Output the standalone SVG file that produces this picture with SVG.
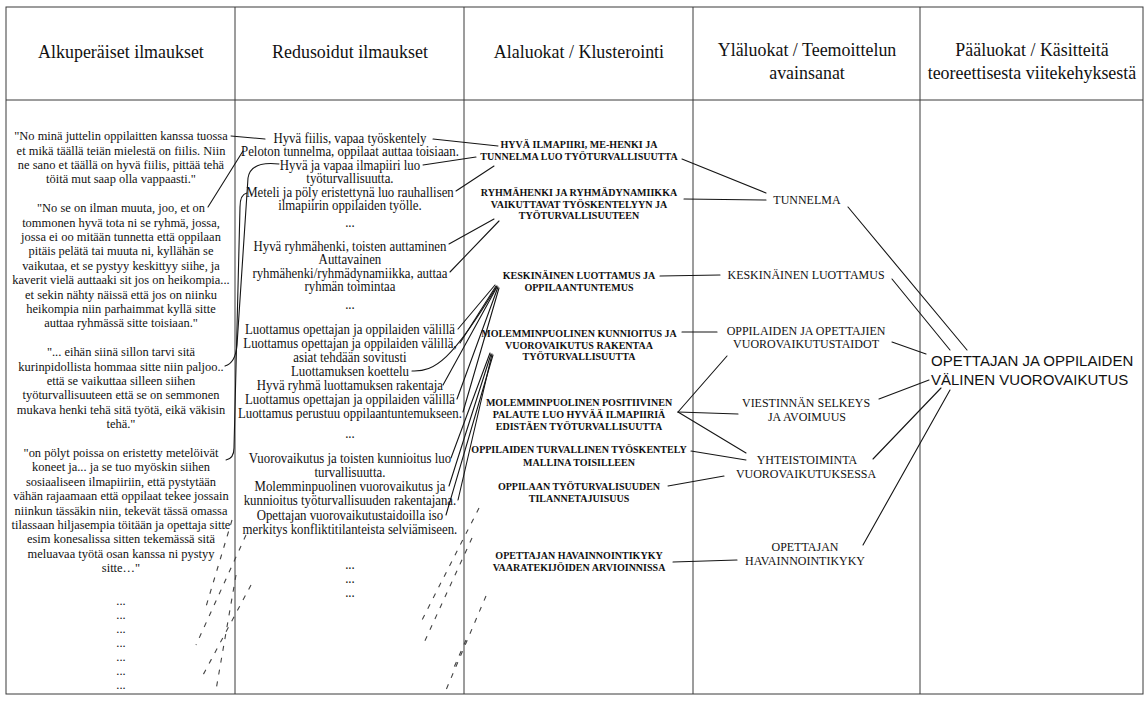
<svg xmlns="http://www.w3.org/2000/svg" width="1146" height="702" viewBox="0 0 1146 702">
  <style>
    .serif { font-family: "Liberation Serif", "Times New Roman", serif; fill: #111; text-anchor: middle; }
    .hd { font-size: 19.5px; }
    .c1 { font-size: 13.4px; }
    .c2 { font-size: 13.8px; }
    .c3 { font-size: 10.8px; font-weight: bold; }
    .c4 { font-size: 12.9px; }
    .c5 { font-family: "Liberation Sans", Arial, sans-serif; font-size: 15px; fill: #111; }
    .grid { stroke: #3a3a3a; stroke-width: 1; fill: none; }
    .ln { stroke: #151515; stroke-width: 1.1; fill: none; stroke-linecap: round; }
    .dl { stroke: #444; stroke-width: 1.1; fill: none; stroke-dasharray: 5 7; }
  </style>
  <rect width="1146" height="702" fill="#fff"/>

  <!-- table frame -->
  <g id="table" class="grid">
    <rect x="6" y="7" width="1137" height="687"/>
    <line x1="6" y1="100" x2="1143" y2="100"/>
    <line x1="235" y1="7" x2="235" y2="694"/>
    <line x1="464" y1="7" x2="464" y2="694"/>
    <line x1="693" y1="7" x2="693" y2="694"/>
    <line x1="920" y1="7" x2="920" y2="694"/>
  </g>

  <!-- column headings (narrow serif: x values are pre-divided by the 0.92 squeeze) -->
  <g id="headers" class="serif hd" transform="scale(0.92,1)">
    <text x="131.5" y="58">Alkuperäiset ilmaukset</text>
    <text x="380.4" y="58">Redusoidut ilmaukset</text>
    <text x="629.3" y="58">Alaluokat / Klusterointi</text>
    <text x="877.2" y="56">Yläluokat / Teemoittelun</text>
    <text x="877.2" y="79">avainsanat</text>
    <text x="1121.7" y="56">Pääluokat / Käsitteitä</text>
    <text x="1121.7" y="79">teoreettisesta viitekehyksestä</text>
  </g>

  <!-- connectors -->
  <g id="connectors">
    <!-- original expressions to reduced expressions -->
    <line class="ln" x1="231" y1="136" x2="265" y2="139"/>
    <line class="ln" x1="208" y1="207" x2="243" y2="151"/>
    <path class="ln" d="M279,164 C262,162 250,166 248,178 L237,345 C236,357 232,364 225,366"/>
    <path class="ln" d="M247,193 C242,194 240,198 240,207 L234,448 C234,455 231,459 226,460"/>
    <!-- reduced expressions to sub-categories -->
    <line class="ln" x1="433" y1="139" x2="498" y2="146"/>
    <line class="ln" x1="423" y1="165" x2="476" y2="157"/>
    <line class="ln" x1="456" y1="191" x2="494" y2="166"/>
    <line class="ln" x1="449" y1="244" x2="494" y2="219"/>
    <line class="ln" x1="450" y1="272" x2="499" y2="221"/>
    <line class="ln" x1="458" y1="329" x2="495" y2="285"/>
    <line class="ln" x1="460" y1="343" x2="496" y2="286"/>
    <path class="ln" d="M412,371 C435,372 452,360 497,286"/>
    <line class="ln" x1="443" y1="385" x2="497" y2="287"/>
    <line class="ln" x1="457" y1="399" x2="498" y2="287"/>
    <line class="ln" x1="463" y1="412" x2="499" y2="288"/>
    <line class="ln" x1="451" y1="458" x2="490" y2="353"/>
    <line class="ln" x1="449" y1="486" x2="491" y2="354"/>
    <line class="ln" x1="458" y1="500" x2="492" y2="354"/>
    <line class="ln" x1="446" y1="515" x2="493" y2="355"/>
    <!-- sub-categories to upper categories -->
    <line class="ln" x1="682" y1="159" x2="766" y2="193"/>
    <line class="ln" x1="684" y1="199" x2="766" y2="200"/>
    <line class="ln" x1="660" y1="276" x2="720" y2="275"/>
    <line class="ln" x1="682" y1="332" x2="717" y2="332"/>
    <line class="ln" x1="678" y1="412" x2="727" y2="356"/>
    <line class="ln" x1="678" y1="412" x2="738" y2="414"/>
    <line class="ln" x1="678" y1="412" x2="746" y2="453"/>
    <line class="ln" x1="691" y1="451" x2="746" y2="460"/>
    <line class="ln" x1="668" y1="486" x2="724" y2="476"/>
    <line class="ln" x1="673" y1="562" x2="737" y2="560"/>
    <!-- upper categories to main category -->
    <line class="ln" x1="848" y1="207" x2="967" y2="350"/>
    <line class="ln" x1="892" y1="279" x2="950" y2="350"/>
    <line class="ln" x1="892" y1="342" x2="926" y2="354"/>
    <line class="ln" x1="879" y1="399" x2="929" y2="380"/>
    <line class="ln" x1="873" y1="459" x2="941" y2="388"/>
    <line class="ln" x1="863" y1="545" x2="950" y2="390"/>
    <!-- faint continuation lines -->
    <line class="dl" x1="246" y1="535" x2="196" y2="645"/>
    <line class="dl" x1="251" y1="585" x2="203" y2="675"/>
    <line class="dl" x1="236" y1="575" x2="216" y2="690"/>
    <line class="dl" x1="232" y1="520" x2="205" y2="610"/>
    <line class="dl" x1="479" y1="508" x2="421" y2="622"/>
    <line class="dl" x1="472" y1="538" x2="423" y2="645"/>
    <line class="dl" x1="486" y1="596" x2="446" y2="690"/>
    <line class="dl" x1="466" y1="640" x2="452" y2="672"/>
  </g>

  <!-- original expressions (squeezed 0.93 horizontally; x = 121 / 0.93) -->
  <g id="quote-fiilis" class="serif c1" transform="scale(0.93,1)">
    <text x="130.1" y="140.2">"No minä juttelin oppilaitten kanssa tuossa</text>
    <text x="130.1" y="154.6">et mikä täällä teiän mielestä on fiilis. Niin</text>
    <text x="130.1" y="169">ne sano et täällä on hyvä fiilis, pittää tehä</text>
    <text x="130.1" y="183.4">töitä mut saap olla vappaasti."</text>
  </g>
  <g id="quote-ryhma" class="serif c1" transform="scale(0.93,1)">
    <text x="130.1" y="212.2">"No se on ilman muuta, joo, et on</text>
    <text x="130.1" y="226.6">tommonen hyvä tota ni se ryhmä, jossa,</text>
    <text x="130.1" y="241">jossa ei oo mitään tunnetta että oppilaan</text>
    <text x="130.1" y="255.4">pitäis pelätä tai muuta ni, kyllähän se</text>
    <text x="130.1" y="269.8">vaikutaa, et se pystyy keskittyy siihe, ja</text>
    <text x="130.1" y="284.2">kaverit vielä auttaaki sit jos on heikompia...</text>
    <text x="130.1" y="298.6">et sekin nähty näissä että jos on niinku</text>
    <text x="130.1" y="313">heikompia niin parhaimmat kyllä sitte</text>
    <text x="130.1" y="327.4">auttaa ryhmässä sitte toisiaan."</text>
  </g>
  <g id="quote-henki" class="serif c1" transform="scale(0.93,1)">
    <text x="130.1" y="356.2">"... eihän siinä sillon tarvi sitä</text>
    <text x="130.1" y="370.6">kurinpidollista hommaa sitte niin paljoo..</text>
    <text x="130.1" y="385">että se vaikuttaa silleen siihen</text>
    <text x="130.1" y="399.4">työturvallisuuteen että se on semmonen</text>
    <text x="130.1" y="413.8">mukava henki tehä sitä työtä, eikä väkisin</text>
    <text x="130.1" y="428.2">tehä."</text>
  </g>
  <g id="quote-melu" class="serif c1" transform="scale(0.93,1)">
    <text x="130.1" y="457">"on pölyt poissa on eristetty metelöivät</text>
    <text x="130.1" y="471.4">koneet ja... ja se tuo myöskin siihen</text>
    <text x="130.1" y="485.8">sosiaaliseen ilmapiiriin, että pystytään</text>
    <text x="130.1" y="500.2">vähän rajaamaan että oppilaat tekee jossain</text>
    <text x="130.1" y="514.6">niinkun tässäkin niin, tekevät tässä omassa</text>
    <text x="130.1" y="529">tilassaan hiljasempia töitään ja opettaja sitte</text>
    <text x="130.1" y="543.4">esim konesalissa sitten tekemässä sitä</text>
    <text x="130.1" y="557.8">meluavaa työtä osan kanssa ni pystyy</text>
    <text x="130.1" y="572.2">sitte…"</text>
  </g>
  <g id="quote-more" class="serif c1" transform="scale(0.93,1)">
    <text x="130.1" y="605">...</text>
    <text x="130.1" y="619">...</text>
    <text x="130.1" y="633">...</text>
    <text x="130.1" y="647">...</text>
    <text x="130.1" y="661">...</text>
    <text x="130.1" y="675">...</text>
    <text x="130.1" y="689">...</text>
  </g>

  <!-- reduced expressions (x = 350 / 0.93) -->
  <g id="reduced-ilmapiiri" class="serif c2" transform="scale(0.93,1)">
    <text x="376.3" y="142.8">Hyvä fiilis, vapaa työskentely</text>
    <text x="376.3" y="156.3">Peloton tunnelma, oppilaat auttaa toisiaan.</text>
    <text x="376.3" y="169.8">Hyvä ja vapaa ilmapiiri luo</text>
    <text x="376.3" y="183.3">työturvallisuutta.</text>
    <text x="376.3" y="196.8">Meteli ja pöly eristettynä luo rauhallisen</text>
    <text x="376.3" y="210.3">ilmapiirin oppilaiden työlle.</text>
    <text x="376.3" y="227.3">...</text>
  </g>
  <g id="reduced-ryhmahenki" class="serif c2" transform="scale(0.93,1)">
    <text x="376.3" y="250.8">Hyvä ryhmähenki, toisten auttaminen</text>
    <text x="376.3" y="264.3">Auttavainen</text>
    <text x="376.3" y="277.8">ryhmähenki/ryhmädynamiikka, auttaa</text>
    <text x="376.3" y="291.3">ryhmän toimintaa</text>
    <text x="376.3" y="309.3">...</text>
  </g>
  <g id="reduced-luottamus" class="serif c2" transform="scale(0.93,1)">
    <text x="376.3" y="334.3">Luottamus opettajan ja oppilaiden välillä</text>
    <text x="376.3" y="348.3">Luottamus opettajan ja oppilaiden välillä,</text>
    <text x="376.3" y="361.8">asiat tehdään sovitusti</text>
    <text x="376.3" y="376.3">Luottamuksen koettelu</text>
    <text x="376.3" y="390.3">Hyvä ryhmä luottamuksen rakentaja</text>
    <text x="376.3" y="404.3">Luottamus opettajan ja oppilaiden välillä</text>
    <text x="376.3" y="418.3">Luottamus perustuu oppilaantuntemukseen.</text>
    <text x="376.3" y="438.3">...</text>
  </g>
  <g id="reduced-vuorovaikutus" class="serif c2" transform="scale(0.93,1)">
    <text x="376.3" y="463.3">Vuorovaikutus ja toisten kunnioitus luo</text>
    <text x="376.3" y="477.3">turvallisuutta.</text>
    <text x="376.3" y="491.3">Molemminpuolinen vuorovaikutus ja</text>
    <text x="376.3" y="505.3">kunnioitus työturvallisuuden rakentajana.</text>
    <text x="376.3" y="520.3">Opettajan vuorovaikutustaidoilla iso</text>
    <text x="376.3" y="534.3">merkitys konfliktitilanteista selviämiseen.</text>
  </g>
  <g id="reduced-more" class="serif c2" transform="scale(0.93,1)">
    <text x="376.3" y="569.3">...</text>
    <text x="376.3" y="583.3">...</text>
    <text x="376.3" y="597.3">...</text>
  </g>

  <!-- sub-categories (x = 579 / 0.93) -->
  <g id="sub-ilmapiiri" class="serif c3" transform="scale(0.93,1)">
    <text x="622.6" y="148.3">HYVÄ ILMAPIIRI, ME-HENKI JA</text>
    <text x="622.6" y="160.3">TUNNELMA LUO TYÖTURVALLISUUTTA</text>
  </g>
  <g id="sub-ryhmahenki" class="serif c3" transform="scale(0.93,1)">
    <text x="622.6" y="196.3">RYHMÄHENKI JA RYHMÄDYNAMIIKKA</text>
    <text x="622.6" y="207.8">VAIKUTTAVAT TYÖSKENTELYYN JA</text>
    <text x="622.6" y="219.3">TYÖTURVALLISUUTEEN</text>
  </g>
  <g id="sub-luottamus" class="serif c3" transform="scale(0.93,1)">
    <text x="622.6" y="279.3">KESKINÄINEN LUOTTAMUS JA</text>
    <text x="622.6" y="290.8">OPPILAANTUNTEMUS</text>
  </g>
  <g id="sub-kunnioitus" class="serif c3" transform="scale(0.93,1)">
    <text x="622.6" y="337.3">MOLEMMINPUOLINEN KUNNIOITUS JA</text>
    <text x="622.6" y="348.8">VUOROVAIKUTUS RAKENTAA</text>
    <text x="622.6" y="360.3">TYÖTURVALLISUUTTA</text>
  </g>
  <g id="sub-palaute" class="serif c3" transform="scale(0.93,1)">
    <text x="622.6" y="406.3">MOLEMMINPUOLINEN POSITIIVINEN</text>
    <text x="622.6" y="418.3">PALAUTE LUO HYVÄÄ ILMAPIIRIÄ</text>
    <text x="622.6" y="430.3">EDISTÄEN TYÖTURVALLISUUTTA</text>
  </g>
  <g id="sub-malli" class="serif c3" transform="scale(0.93,1)">
    <text x="622.6" y="453.3">OPPILAIDEN TURVALLINEN TYÖSKENTELY</text>
    <text x="622.6" y="465.8">MALLINA TOISILLEEN</text>
  </g>
  <g id="sub-tilannetaju" class="serif c3" transform="scale(0.93,1)">
    <text x="622.6" y="490.3">OPPILAAN TYÖTURVALISUUDEN</text>
    <text x="622.6" y="501.8">TILANNETAJUISUUS</text>
  </g>
  <g id="sub-havainnointi" class="serif c3" transform="scale(0.93,1)">
    <text x="622.6" y="559.3">OPETTAJAN HAVAINNOINTIKYKY</text>
    <text x="622.6" y="571.3">VAARATEKIJÖIDEN ARVIOINNISSA</text>
  </g>

  <!-- upper categories (x = centre / 0.93) -->
  <g id="up-tunnelma" class="serif c4" transform="scale(0.93,1)">
    <text x="867.7" y="204">TUNNELMA</text>
  </g>
  <g id="up-luottamus" class="serif c4" transform="scale(0.93,1)">
    <text x="866.7" y="279">KESKINÄINEN LUOTTAMUS</text>
  </g>
  <g id="up-taidot" class="serif c4" transform="scale(0.93,1)">
    <text x="866.7" y="335">OPPILAIDEN JA OPETTAJIEN</text>
    <text x="866.7" y="348">VUOROVAIKUTUSTAIDOT</text>
  </g>
  <g id="up-viestinta" class="serif c4" transform="scale(0.93,1)">
    <text x="866.7" y="407">VIESTINNÄN SELKEYS</text>
    <text x="867.7" y="421">JA AVOIMUUS</text>
  </g>
  <g id="up-yhteistoiminta" class="serif c4" transform="scale(0.93,1)">
    <text x="867.7" y="464">YHTEISTOIMINTA</text>
    <text x="866.7" y="478">VUOROVAIKUTUKSESSA</text>
  </g>
  <g id="up-havainnointi" class="serif c4" transform="scale(0.93,1)">
    <text x="865.6" y="551">OPETTAJAN</text>
    <text x="865.6" y="565">HAVAINNOINTIKYKY</text>
  </g>

  <!-- main category -->
  <g id="main-vuorovaikutus" class="c5">
    <text x="931" y="366.4">OPETTAJAN JA OPPILAIDEN</text>
    <text x="931" y="385.4">VÄLINEN VUOROVAIKUTUS</text>
  </g>
</svg>
